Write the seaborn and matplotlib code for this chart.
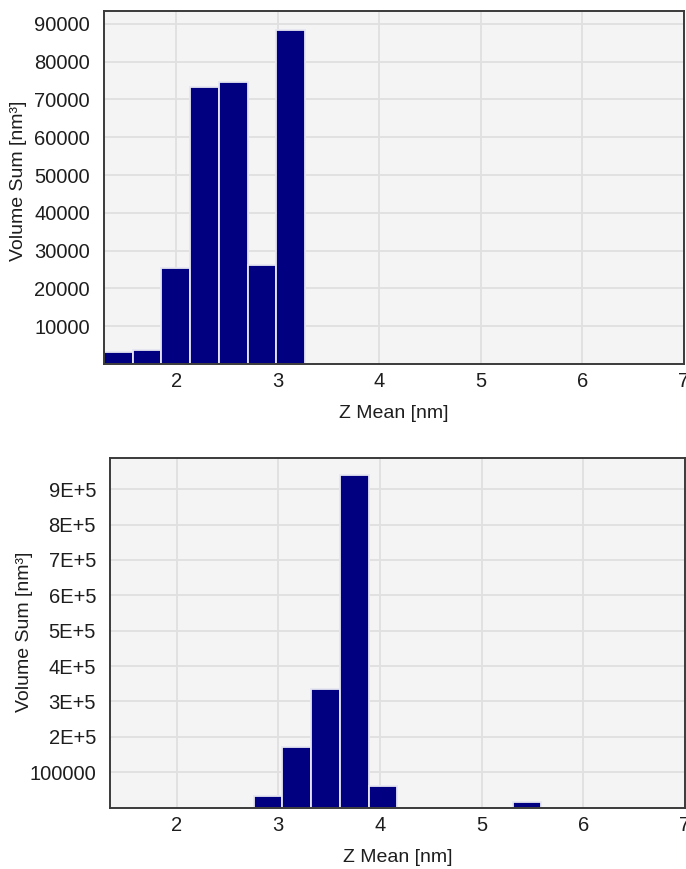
import matplotlib
matplotlib.use("Agg")
import matplotlib.pyplot as plt
import seaborn as sns
import numpy as np

# Particle size distributions: volume sum per Z-mean bin
top_z = [1.43, 1.71, 2.00, 2.28, 2.56, 2.85, 3.13]
top_vol = [3300, 3800, 25400, 73200, 74500, 26200, 88500]
top_edges = [1.29, 1.573, 1.856, 2.139, 2.422, 2.705, 2.988, 3.271]

bot_z = [2.90, 3.18, 3.46, 3.75, 4.03, 5.45]
bot_vol = [32000, 172000, 336000, 940000, 60000, 15000]
bot_edges = [2.757, 3.04, 3.323, 3.606, 3.889, 4.172, 4.455, 4.738,
             5.021, 5.304, 5.587]

x_ticks = [2, 3, 4, 5, 6, 7]
top_yticks = [10000, 20000, 30000, 40000, 50000, 60000, 70000, 80000, 90000]
top_ylabels = ["10000", "20000", "30000", "40000", "50000", "60000",
               "70000", "80000", "90000"]
bot_yticks = [100000, 200000, 300000, 400000, 500000, 600000, 700000,
              800000, 900000]
bot_ylabels = ["100000", "2E+5", "3E+5", "4E+5", "5E+5", "6E+5", "7E+5",
               "8E+5", "9E+5"]

sns.set_theme(style="whitegrid")
plt.rcParams["font.family"] = ["Liberation Sans", "DejaVu Sans"]

W, H = 686, 869
fig = plt.figure(figsize=(W / 100, H / 100), dpi=100)

def box(l, t, r, b):
    return [l / W, 1 - b / H, (r - l) / W, (b - t) / H]

ax1 = fig.add_axes(box(104, 11, 684, 364))
ax2 = fig.add_axes(box(110, 458, 685, 807.5))

BAR = "#000080"
TXT = "#1e1e1e"

def style(ax, z, vol, edges, xlim, ylim, yt, yl, ylab_pos):
    sns.histplot(x=z, weights=vol, bins=edges, ax=ax, color=BAR,
                 edgecolor="#e6e6f2", linewidth=1.3, alpha=1.0)
    ax.set_facecolor("#f4f4f4")
    ax.set_xlim(*xlim)
    ax.set_ylim(*ylim)
    ax.set_xticks(x_ticks)
    ax.set_xticklabels([str(t) for t in x_ticks])
    ax.set_yticks(yt)
    ax.set_yticklabels(yl)
    ax.grid(True, color="#e0e0e0", linewidth=1.3)
    ax.set_axisbelow(True)
    for s in ax.spines.values():
        s.set_visible(True)
        s.set_color("#3a3a3a")
        s.set_linewidth(1.4)
    ax.tick_params(axis="both", length=0, labelsize=14.5, colors=TXT)
    ax.tick_params(axis="x", pad=6)
    ax.tick_params(axis="y", pad=10)
    ax.set_xlabel("Z Mean [nm]", fontsize=14, color=TXT, labelpad=10)
    ax.set_ylabel("Volume Sum [nm³]", fontsize=14, color=TXT)
    ax.yaxis.set_label_coords(*ylab_pos)

style(ax1, top_z, top_vol, top_edges, (1.29, 7.0), (0, 93400),
      top_yticks, top_ylabels, (-0.133, 0.518))
style(ax2, bot_z, bot_vol, bot_edges, (1.345, 7.0), (0, 988000),
      bot_yticks, bot_ylabels, (-0.134, 0.502))

fig.savefig("out.png", dpi=100, facecolor="white")
